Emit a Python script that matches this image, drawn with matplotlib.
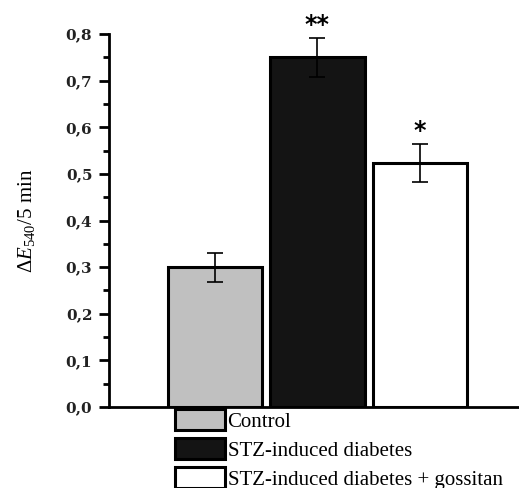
"""Bar chart of Delta E540 / 5 min for three groups, with error bars and a legend under the axis"""
import matplotlib.pyplot as plt
from matplotlib.patches import Patch
from matplotlib.ticker import MultipleLocator, FuncFormatter

plt.rcParams['font.family'] = ['Liberation Serif', 'DejaVu Serif']
plt.rcParams['mathtext.fontset'] = 'custom'
plt.rcParams['mathtext.rm'] = 'Liberation Serif'
plt.rcParams['mathtext.it'] = 'Liberation Serif:italic'

# data
groups = ['Control', 'STZ-induced diabetes', 'STZ-induced diabetes + gossitan']
values = [0.30, 0.75, 0.523]
errors = [0.031, 0.041, 0.041]
stars = ['', '**', '*']
colors = ['#c0c0c0', '#141414', '#ffffff']

fig = plt.figure(figsize=(5.19, 4.88), dpi=100)
ax = fig.add_axes([0.21, 0.166, 0.79, 0.764])

xpos = [1, 2, 3]
ax.bar(xpos, values, width=0.92, color=colors, edgecolor='black', linewidth=2.2,
       yerr=errors, error_kw=dict(ecolor='black', elinewidth=1.2, capsize=6, capthick=1.2))

# significance marks above the error bars
for x, v, e, s in zip(xpos, values, errors, stars):
    if s:
        ax.text(x, v + e + 0.003, s, ha='center', va='bottom', fontsize=17,
                fontweight='bold', family='DejaVu Sans', clip_on=False)

ax.set_xlim(-0.034, 3.966)
ax.set_ylim(0, 0.8)
ax.set_xticks([])
ax.yaxis.set_major_locator(MultipleLocator(0.1))
ax.yaxis.set_minor_locator(MultipleLocator(0.05))
ax.yaxis.set_major_formatter(FuncFormatter(lambda v, p: f'{v:.1f}'.replace('.', ',')))
ax.tick_params(axis='y', which='major', length=7, width=2, labelsize=11, pad=5)
ax.tick_params(axis='y', which='minor', length=4, width=2)
for lab in ax.get_yticklabels():
    lab.set_fontweight('bold')
    lab.set_family('DejaVu Serif')
    lab.set_color('#222222')

ax.spines['top'].set_visible(False)
ax.spines['right'].set_visible(False)
ax.spines['left'].set_linewidth(2)
ax.spines['bottom'].set_linewidth(2)

ax.set_ylabel(r'$\Delta\mathit{E}_{540}$/5 min', fontsize=15, labelpad=21)

handles = [Patch(facecolor=c, edgecolor='black', linewidth=2.2) for c in colors]
fig.legend(handles, groups, loc='upper left', bbox_to_anchor=(175 / 519, 1 - 409 / 488),
           frameon=False, fontsize=15, handlelength=2.4, handleheight=1.2,
           handletextpad=0.12, labelspacing=0.3, borderpad=0, borderaxespad=0)

plt.savefig('out.png', dpi=100)
